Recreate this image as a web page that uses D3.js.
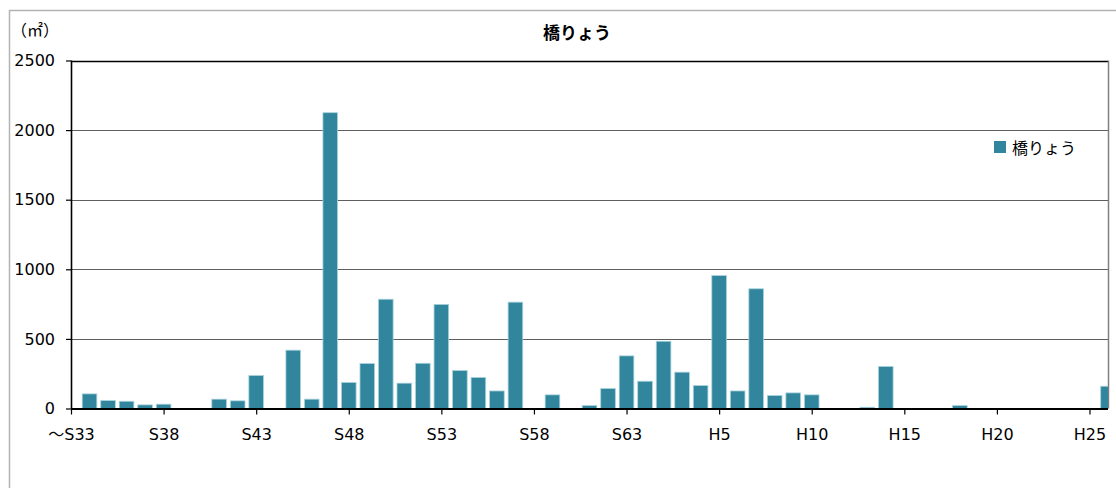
<!DOCTYPE html>
<html>
<head>
<meta charset="utf-8">
<script src="https://cdn.jsdelivr.net/npm/d3@7/dist/d3.min.js"></script>
<style>
  html, body { margin: 0; padding: 0; background: #fff; }
  svg { display: block; }
</style>
</head>
<body>
<svg id="chart" width="1116" height="488"></svg>
<script>
// Fiscal years: Showa 33 (and earlier) through Heisei 26
const categories = [
  "S33","S34","S35","S36","S37","S38","S39","S40","S41","S42",
  "S43","S44","S45","S46","S47","S48","S49","S50","S51","S52",
  "S53","S54","S55","S56","S57","S58","S59","S60","S61","S62",
  "S63","H1","H2","H3","H4","H5","H6","H7","H8","H9",
  "H10","H11","H12","H13","H14","H15","H16","H17","H18","H19",
  "H20","H21","H22","H23","H24","H25","H26"
];

// Bridge deck area built per year (m²)
const bridgeArea = [
  0, 105, 57, 52, 26, 31, 0, 0, 67, 55,
  237, 0, 419, 67, 2125, 187, 323, 785, 182, 325,
  748, 273, 223, 126, 764, 0, 98, 0, 21, 143,
  378, 196, 483, 261, 165, 955, 126, 860, 93, 112,
  98, 0, 0, 9, 302, 0, 0, 0, 21, 0,
  0, 0, 0, 0, 0, 0, 160
];

// Labelled categories on the x axis
const tickCategories = ["S33","S38","S43","S48","S53","S58","S63","H5","H10","H15","H20","H25"];
const tickText = { "S33": "〜S33" };

const yTicks = [0, 500, 1000, 1500, 2000, 2500];

const seriesName = "橋りょう";
const title = "橋りょう";
const unitLabel = "（㎡）";

const barColor = "#31859c";
const latinFont = "'DejaVu Sans', 'Noto Sans CJK JP', sans-serif";
const cjkFont = "'Noto Sans CJK JP', sans-serif";

const svg = d3.select("#chart");
const W = 1116, H = 488;
const plot = { left: 71, right: 1108, top: 60.5, bottom: 408.5 };

// Outer chart frame
svg.append("rect")
  .attr("x", 9.5).attr("y", 10.5)
  .attr("width", W + 20).attr("height", H + 20)
  .attr("fill", "#fff").attr("stroke", "#b3b3b3").attr("stroke-width", 1.5);

const x = d3.scalePoint()
  .domain(categories)
  .range([plot.left, plot.right])
  .padding(0);

const y = d3.scaleLinear()
  .domain([0, 2500])
  .range([plot.bottom, plot.top]);

const step = x.step();
const barW = step * 0.79;

// Gridlines
svg.append("g")
  .selectAll("line")
  .data(yTicks.filter(d => d > 0))
  .join("line")
  .attr("x1", plot.left).attr("x2", plot.right)
  .attr("y1", d => Math.round(y(d)) + 0.5).attr("y2", d => Math.round(y(d)) + 0.5)
  .attr("stroke", d => d === 2500 ? "#000" : "#5f5f5f")
  .attr("stroke-width", d => d === 2500 ? 1.6 : 1.2);

// Plot area right edge
svg.append("line")
  .attr("x1", plot.right + 0.5).attr("x2", plot.right + 0.5)
  .attr("y1", plot.top).attr("y2", plot.bottom)
  .attr("stroke", "#808080").attr("stroke-width", 1.5);

// Clip bars to the plot area (first/last categories sit on the edges)
svg.append("clipPath").attr("id", "plotClip")
  .append("rect")
  .attr("x", plot.left).attr("y", 0)
  .attr("width", plot.right - plot.left).attr("height", plot.bottom);

svg.append("g")
  .attr("clip-path", "url(#plotClip)")
  .selectAll("rect")
  .data(categories.map((c, i) => ({ c, v: bridgeArea[i] })).filter(d => d.v > 0))
  .join("rect")
  .attr("x", d => x(d.c) - barW / 2)
  .attr("y", d => y(d.v))
  .attr("width", barW)
  .attr("height", d => y(0) - y(d.v))
  .attr("fill", barColor)
  .attr("stroke", "#a9d3de")
  .attr("stroke-width", 0.8);

// Y axis
const yAxis = svg.append("g")
  .attr("transform", `translate(${plot.left},0)`)
  .call(d3.axisLeft(y).tickValues(yTicks).tickSize(5).tickPadding(11).tickFormat(d3.format("d")));
yAxis.select(".domain").attr("stroke", "#000").attr("stroke-width", 1.6)
  .attr("d", `M0.5,${plot.top}V${plot.bottom}`);
yAxis.selectAll(".tick line").attr("stroke", "#000").attr("stroke-width", 1.2);
yAxis.selectAll(".tick text")
  .attr("font-family", latinFont).attr("font-size", 16).attr("fill", "#000");

// X axis
const xAxis = svg.append("g")
  .attr("transform", `translate(0,${plot.bottom})`)
  .call(d3.axisBottom(x).tickValues(tickCategories).tickSize(6).tickPadding(14)
    .tickFormat(d => tickText[d] || d));
xAxis.select(".domain").attr("stroke", "#000").attr("stroke-width", 1.8)
  .attr("d", `M${plot.left},0.5H${plot.right}`);
xAxis.selectAll(".tick line").attr("stroke", "#000").attr("stroke-width", 1.2);
xAxis.selectAll(".tick text")
  .attr("font-family", latinFont).attr("font-size", 16).attr("fill", "#000");

// Title
svg.append("text")
  .attr("x", 577).attr("y", 39)
  .attr("text-anchor", "middle")
  .attr("font-family", cjkFont).attr("font-weight", "bold").attr("font-size", 17)
  .attr("fill", "#000")
  .text(title);

// Unit label
svg.append("text")
  .attr("x", 11).attr("y", 36)
  .attr("font-family", cjkFont).attr("font-size", 16)
  .attr("fill", "#000")
  .text(unitLabel);

// Legend
const legend = svg.append("g").attr("transform", "translate(994,141)");
legend.append("rect").attr("width", 12).attr("height", 12).attr("fill", barColor);
legend.append("text")
  .attr("x", 18).attr("y", 13)
  .attr("font-family", cjkFont).attr("font-size", 16).attr("fill", "#000")
  .text(seriesName);
</script>
</body>
</html>
